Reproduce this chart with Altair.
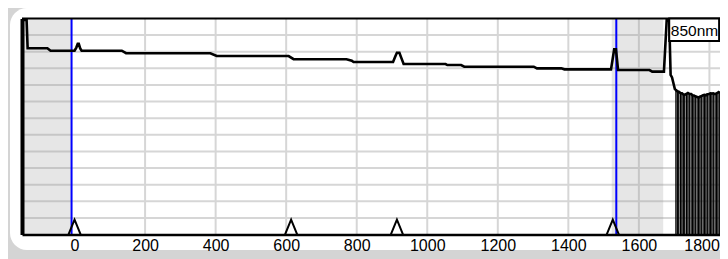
import altair as alt
import pandas as pd

# ---- data (distance in m, level in trace units) ----
trace_d = [-149, -136, -133, -77, -68, 0, 5, 9, 12, 16, 20, 134, 146, 385, 403,
           607, 621, 771, 786, 791, 903, 909, 914, 921, 927, 933, 1052, 1057,
           1096, 1105, 1302, 1311, 1380, 1389, 1521, 1530, 1535, 1541, 1630,
           1638, 1671, 1679, 1686, 1690, 1694, 1702]
trace_v = [12.91, 12.91, 11.21, 11.21, 11.06, 11.06, 11.25, 11.47, 11.47, 11.2,
           11.06, 11.06, 10.91, 10.91, 10.74, 10.74, 10.55, 10.55, 10.46, 10.38,
           10.38, 10.7, 10.94, 10.94, 10.6, 10.26, 10.26, 10.20, 10.20, 10.10,
           10.10, 10.00, 10.00, 9.94, 9.94, 11.15, 11.15, 9.90, 9.90, 9.80,
           9.80, 12.95, 12.95, 9.60, 9.45, 8.75]

noise_d = [1705, 1709, 1713, 1718, 1722, 1726, 1730, 1735, 1739, 1743, 1748,
           1752, 1756, 1760, 1765, 1769, 1773, 1777, 1782, 1786, 1790, 1794,
           1799, 1803, 1807, 1811, 1816, 1820, 1824, 1828]
noise_v = [8.70, 8.62, 8.60, 8.52, 8.50, 8.43, 8.40, 8.47, 8.52, 8.47, 8.46,
           8.38, 8.37, 8.32, 8.28, 8.24, 8.29, 8.33, 8.38, 8.40, 8.38, 8.44,
           8.46, 8.50, 8.48, 8.50, 8.45, 8.49, 8.53, 8.62]

event_d = [0, 614, 914, 1526]          # event markers (triangles)
cursor_d = [-8.5, 1536]                # blue cursors
shade_start = [-149, 1523]
shade_end = [-8.5, 1669]
x_ticks = [0, 200, 400, 600, 800, 1000, 1200, 1400, 1600, 1800]
x_grid = [200, 400, 600, 800, 1000, 1200, 1400, 1600, 1800]
y_grid = [1, 2, 3, 4, 5, 6, 7, 8, 9, 10, 11, 12]
wavelength = "850nm"

X_DOMAIN = [-149, 1830]
Y_DOMAIN = [0, 13]
xs = alt.Scale(domain=X_DOMAIN, nice=False, zero=False)
ys = alt.Scale(domain=Y_DOMAIN, nice=False, zero=False)
FONT = "Liberation Sans"

xaxis = alt.Axis(
    values=x_ticks, format="d", grid=False, ticks=False, domainColor="black",
    domainWidth=2.5, labelFont=FONT, labelFontSize=16, labelColor="black",
    labelPadding=3, labelFlush=15, labelFlushOffset=10, labelOverlap=False,
    title="", zindex=2)
yaxis = alt.Axis(labels=False, ticks=False, grid=False, domainColor="black",
                 domainWidth=4, title="", zindex=2)


def X(field="d"):
    return alt.X(f"{field}:Q", scale=xs, axis=xaxis)


def Y(field="v"):
    return alt.Y(f"{field}:Q", scale=ys, axis=yaxis)


def YD(val):
    return alt.YDatum(val, scale=ys, axis=yaxis)


trace_df = pd.DataFrame({"d": trace_d + noise_d, "v": trace_v + noise_v})
noise_df = pd.DataFrame({"d": noise_d, "v": noise_v})

frame = alt.Chart(pd.DataFrame({"k": [0]})).mark_rect(
    fill="white", cornerRadius=17
).encode(x=alt.value(-12), x2=alt.value(730), y=alt.value(-10.5), y2=alt.value(231.5))

gridx = alt.Chart(pd.DataFrame({"d": x_grid})).mark_rule(
    color="#d6d6d6", strokeWidth=2
).encode(x=X())

gridy = alt.Chart(pd.DataFrame({"v": y_grid})).mark_rule(
    color="#d6d6d6", strokeWidth=2
).encode(y=Y())

shade = alt.Chart(pd.DataFrame({"d": shade_start, "d2": shade_end})).mark_rect(
    color="#929292", opacity=0.23
).encode(x=X(), x2="d2:Q", y=YD(0), y2=alt.Y2Datum(13))

cursors = alt.Chart(pd.DataFrame({"d": cursor_d})).mark_rule(
    color="#0000ff", strokeWidth=2
).encode(x=X())

noise = alt.Chart(noise_df).mark_rule(color="black", strokeWidth=1.3).encode(
    x=X(), y=Y(), y2=alt.Y2Datum(0),
)

trace = alt.Chart(trace_df).mark_line(color="black", strokeWidth=2.6).encode(
    x=X(), y=Y(), order=alt.Order("d:Q"),
)

events = alt.Chart(pd.DataFrame({"d": event_d})).mark_point(
    shape="M-0.82,1L0,-1L0.82,1", filled=False, stroke="black",
    strokeWidth=2, size=216, opacity=1
).encode(x=X(), y=YD(0.45))

top_border = alt.Chart(pd.DataFrame({"k": [0]})).mark_rule(
    color="black", strokeWidth=2
).encode(y=YD(13))

box_df = pd.DataFrame({"d": [1686], "d2": [1827.5], "v": [13], "v2": [11.65]})
box = alt.Chart(box_df).mark_rect(fill="white", stroke="black", strokeWidth=2).encode(
    x=X(), x2="d2:Q", y=Y(), y2="v2:Q"
)
text_df = pd.DataFrame({"d": [1690.5], "v": [12.27], "t": [wavelength]})
box_text = alt.Chart(text_df).mark_text(
    align="left", baseline="middle", font=FONT, fontSize=15.5, color="black"
).encode(x=X(), y=Y(), text="t:N")

chart = alt.layer(
    frame, gridx, gridy, shade, cursors, noise, trace, events, top_border, box, box_text
).properties(
    width=698, height=216,
    padding={"left": 14, "top": 10.5, "right": 0, "bottom": 24.5},
    autosize=alt.AutoSizeParams(type="none"),
    background="#d4d4d4",
).configure_view(stroke=None)

chart.save("out.html", embed_options={"renderer": "svg", "actions": False})
